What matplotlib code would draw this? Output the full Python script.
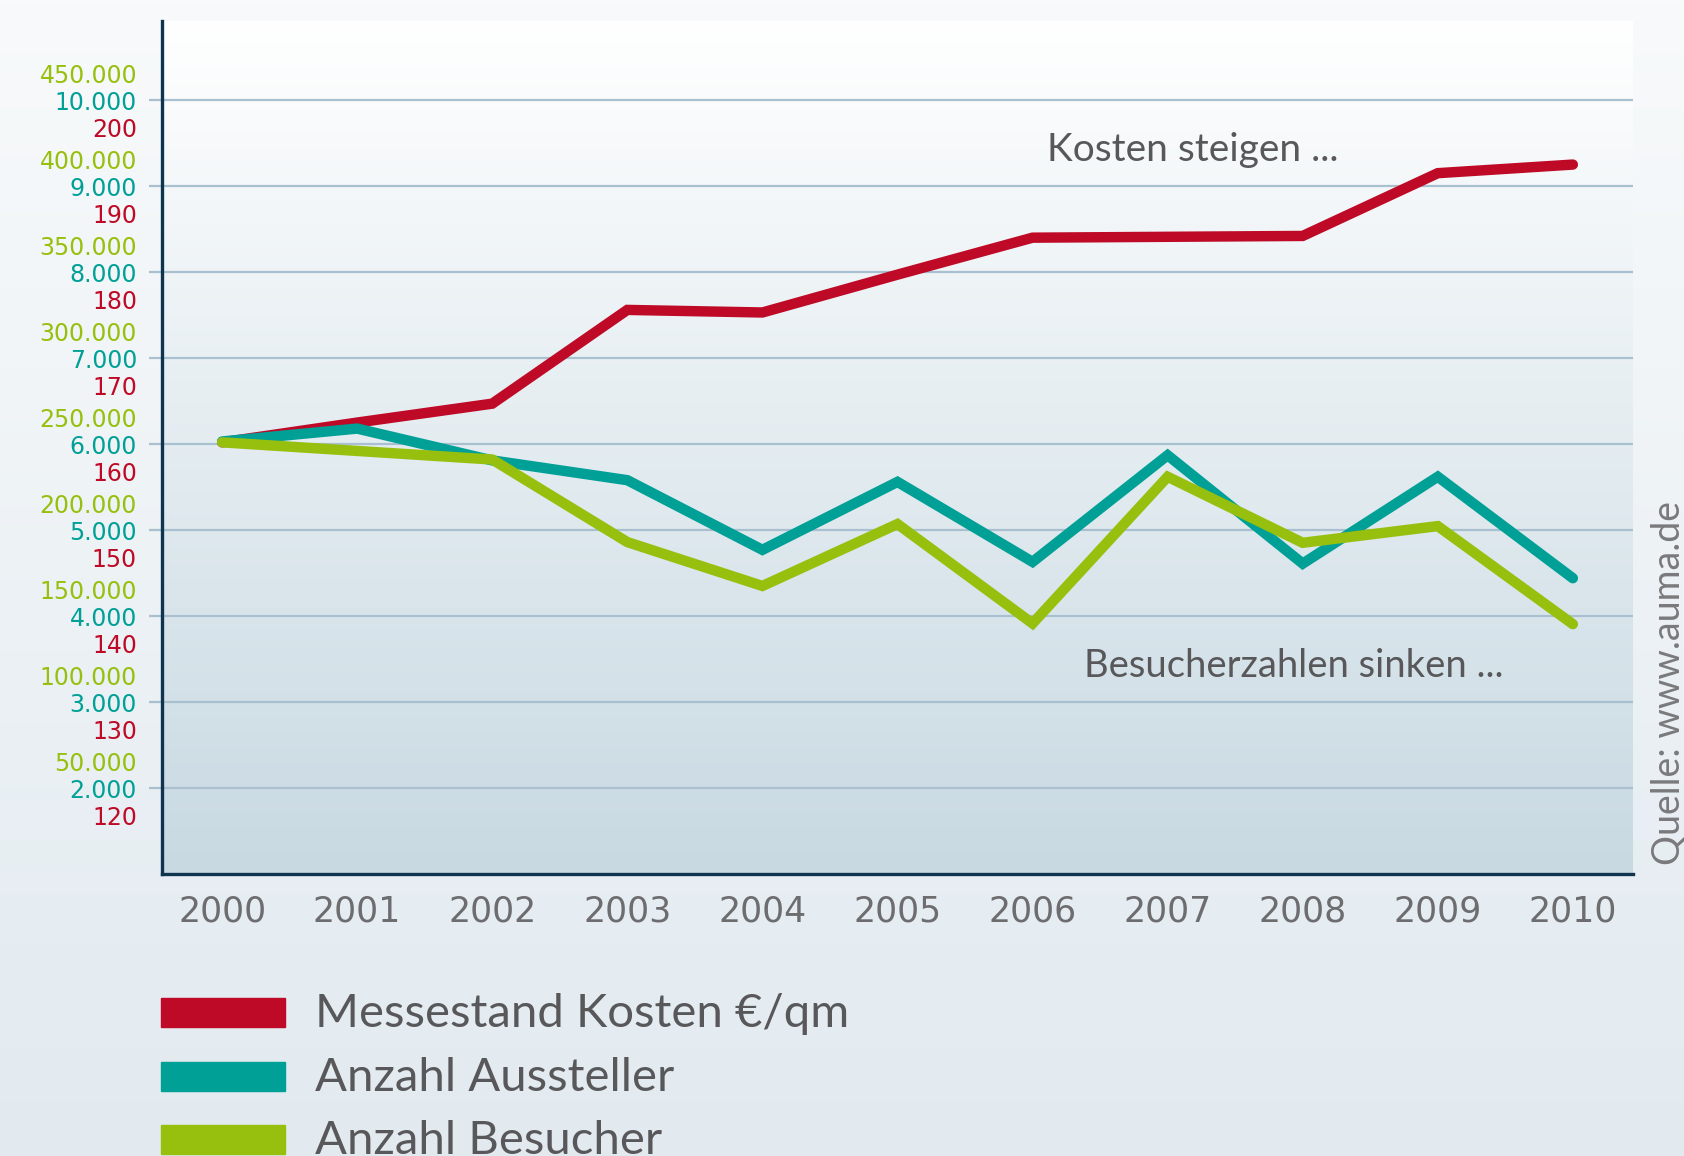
import matplotlib
matplotlib.use("Agg")
import matplotlib.pyplot as plt
import matplotlib.transforms as mtransforms
from matplotlib.colors import LinearSegmentedColormap
from matplotlib.patches import Rectangle
import numpy as np

# data
years = [2000, 2001, 2002, 2003, 2004, 2005, 2006, 2007, 2008, 2009, 2010]
kosten = [160.2, 162.5, 164.7, 175.6, 175.3, 179.7, 184.0, 184.1, 184.2, 191.5, 192.5]
aussteller = [6030, 6180, 5810, 5580, 4770, 5560, 4630, 5870, 4610, 5620, 4440]
besucher = [251000, 246000, 241000, 193000, 167500, 203500, 145700, 231000, 192600, 202300, 145300]

kosten_ticks = [120, 130, 140, 150, 160, 170, 180, 190, 200]
aussteller_ticks = [2000, 3000, 4000, 5000, 6000, 7000, 8000, 9000, 10000]
besucher_ticks = [50000, 100000, 150000, 200000, 250000, 300000, 350000, 400000, 450000]

legend_labels = ["Messestand Kosten €/qm", "Anzahl Aussteller", "Anzahl Besucher"]

RED = "#be0a26"
TEAL = "#00a096"
GREEN = "#97c00e"
GRAY = "#58585a"
GRID = "#a9c0d0"
NAVY = "#0e3450"


def de_fmt(v):
    return f"{v:,.0f}".replace(",", ".")


fig = plt.figure(figsize=(16.84, 11.56), dpi=100)

# figure background gradient
bg = fig.add_axes([0, 0, 1, 1], zorder=-10)
bg_cmap = LinearSegmentedColormap.from_list("bg", ["#f8fafb", "#e2eaf0"])
bg.imshow(np.linspace(0, 1, 256).reshape(-1, 1), cmap=bg_cmap, aspect="auto",
          extent=[0, 1, 0, 1])
bg.axis("off")

# main axis = Kosten
ax = fig.add_axes([0.0962, 0.2439, 0.8735, 0.7379])
xlim = (1999.555, 2010.445)
ylim = (110, 209.19)

plot_cmap = LinearSegmentedColormap.from_list("plot", ["#ffffff", "#c8d9e2"])
ax.imshow(np.linspace(0, 1, 256).reshape(-1, 1), cmap=plot_cmap, aspect="auto",
          extent=[xlim[0], xlim[1], ylim[0], ylim[1]], zorder=0)
ax.set_xlim(xlim)
ax.set_ylim(ylim)

ax.plot(years, kosten, color=RED, lw=7.5, solid_capstyle="round",
        solid_joinstyle="miter", zorder=3)

ax.set_yticks(kosten_ticks)
ax.set_yticklabels([de_fmt(v) for v in kosten_ticks])
ax.yaxis.grid(True, color=GRID, lw=1.6, zorder=1)
ax.set_axisbelow(True)
ax.tick_params(axis="y", length=9.4, width=1.6, color=GRID, pad=8.6,
               labelsize=17, labelcolor=RED)
ax.set_xticks(years)
ax.set_xticklabels([str(y) for y in years])
ax.tick_params(axis="x", length=0, pad=15, labelsize=25, labelcolor="#6d6d6f")

for s in ["top", "right"]:
    ax.spines[s].set_visible(False)
for s in ["left", "bottom"]:
    ax.spines[s].set_color(NAVY)
    ax.spines[s].set_linewidth(2.4)

# Aussteller on a twin axis
ax_t = ax.twinx()
ax_t.set_ylim(1000, 10919)
ax_t.plot(years, aussteller, color=TEAL, lw=7.5, solid_capstyle="round",
          solid_joinstyle="miter", zorder=3)
ax_t.yaxis.set_ticks_position("left")
ax_t.set_yticks(aussteller_ticks)
ax_t.set_yticklabels([de_fmt(v) for v in aussteller_ticks])
ax_t.tick_params(axis="y", length=0, pad=18, labelsize=17, labelcolor=TEAL)
for s in ax_t.spines.values():
    s.set_visible(False)

# Besucher on another twin axis
ax_g = ax.twinx()
ax_g.set_ylim(0, 495950)
ax_g.plot(years, besucher, color=GREEN, lw=7.5, solid_capstyle="round",
          solid_joinstyle="miter", zorder=3)
ax_g.yaxis.set_ticks_position("left")
ax_g.set_yticks(besucher_ticks)
ax_g.set_yticklabels([de_fmt(v) for v in besucher_ticks])
ax_g.tick_params(axis="y", length=0, pad=18, labelsize=17, labelcolor=GREEN)
for s in ax_g.spines.values():
    s.set_visible(False)

# shift red labels down, green labels up
down = mtransforms.ScaledTranslation(0, -0.27, fig.dpi_scale_trans)
up = mtransforms.ScaledTranslation(0, 0.27, fig.dpi_scale_trans)
for lab in ax.get_yticklabels():
    lab.set_transform(lab.get_transform() + down)
for lab in ax_g.get_yticklabels():
    lab.set_transform(lab.get_transform() + up)

# notes
fig.text(0.708, 0.870, "Kosten steigen ...", fontsize=28, color=GRAY,
         family="Lato", ha="center", va="center")
fig.text(0.768, 0.424, "Besucherzahlen sinken ...", fontsize=27.5, color=GRAY,
         family="Lato", ha="center", va="center")
fig.text(0.9905, 0.2517, "Quelle: www.auma.de", fontsize=27, color="#7a7a7c",
         family="Lato", rotation=90, ha="center", va="bottom")

# legend, drawn by hand
for i, (lab, col) in enumerate(zip(legend_labels, [RED, TEAL, GREEN])):
    yb = [0.1118, 0.0562, 0.0020][i]
    fig.patches.append(Rectangle((0.0956, yb), 0.0736, 0.0251, color=col,
                                 transform=fig.transFigure, figure=fig))
    fig.text(0.187, yb, lab, fontsize=34, color=GRAY, family="Lato",
             ha="left", va="baseline")

fig.savefig("out.png", dpi=100)
